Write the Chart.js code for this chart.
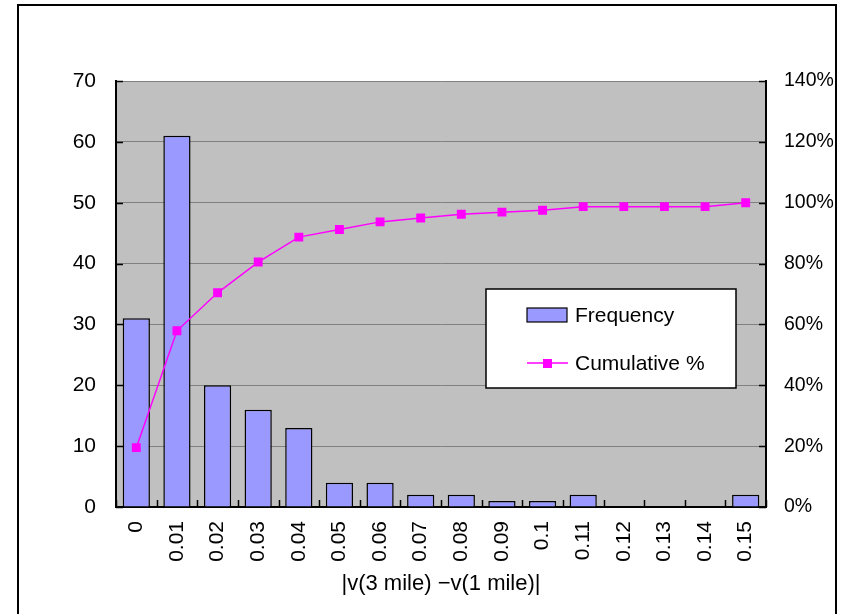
<!DOCTYPE html>
<html><head><meta charset="utf-8">
<script src="https://cdn.jsdelivr.net/npm/chart.js@4/dist/chart.umd.min.js"></script>
<style>html,body{margin:0;padding:0;background:#fff}#wrap{width:844px;height:614px;position:relative}</style>
</head><body><div id="wrap"><canvas id="c" width="844" height="614"></canvas></div>
<script>
const categories = ['0','0.01','0.02','0.03','0.04','0.05','0.06','0.07','0.08','0.09','0.1','0.11','0.12','0.13','0.14','0.15'];
const frequency = [31,61,20,16,13,4,4,2,2,1,1,2,0,0,0,2];
const cumulativePct = [19.5,57.9,70.4,80.5,88.7,91.2,93.7,95.0,96.2,96.9,97.5,98.7,98.7,98.7,98.7,100];
const freqAxis = {min:0, max:70, step:10};
const pctAxis = {min:0, max:140, step:20};
const seriesNames = ['Frequency','Cumulative %'];
const xTitle = '|v(3 mile) \u2212v(1 mile)|';

const FONT = '"Liberation Sans", Arial, sans-serif';
const BAR_FILL = '#9999ff', LINE_COL = '#ff00ff';

const decor = {
  id: 'decor',
  beforeDraw(chart) {
    const {ctx, chartArea: a} = chart;
    ctx.save();
    ctx.fillStyle = '#fff';
    ctx.fillRect(0, 0, chart.width, chart.height);
    ctx.fillStyle = '#c0c0c0';
    ctx.fillRect(a.left, a.top, a.right - a.left, a.bottom - a.top);
    ctx.restore();
  },
  afterDraw(chart) {
    const {ctx, chartArea: a, scales} = chart;
    ctx.save();
    ctx.strokeStyle = '#000';
    ctx.lineWidth = 1.5;
    ctx.beginPath();
    scales.y.ticks.forEach((t, i) => {
      const py = Math.round(scales.y.getPixelForTick(i)) + 0.5;
      ctx.moveTo(a.left, py); ctx.lineTo(a.left + 7, py);
    });
    scales.y1.ticks.forEach((t, i) => {
      const py = Math.round(scales.y1.getPixelForTick(i)) + 0.5;
      ctx.moveTo(a.right - 7, py); ctx.lineTo(a.right, py);
    });
    const n = categories.length;
    const w = (a.right - a.left) / n;
    for (let i = 0; i <= n; i++) {
      const px = Math.round(scales.x.getPixelForValue(Math.min(i, n - 1)) + (i < n ? -w / 2 : w / 2)) + 0.5;
      ctx.moveTo(px, a.bottom); ctx.lineTo(px, a.bottom - 7);
    }
    ctx.stroke();

    // outer frame
    ctx.lineWidth = 2;
    ctx.strokeStyle = '#000';
    ctx.strokeRect(18, 5, 818, 640);

    // legend
    const ds = chart.data.datasets;
    ctx.fillStyle = '#fff';
    ctx.fillRect(486, 289, 250, 99);
    ctx.lineWidth = 1.5;
    ctx.strokeRect(486, 289, 250, 99);
    ctx.font = '21px ' + FONT;
    ctx.textBaseline = 'middle';
    ctx.textAlign = 'left';
    ctx.fillStyle = ds[1].backgroundColor;
    ctx.fillRect(527, 308, 40, 14);
    ctx.lineWidth = 1.2;
    ctx.strokeStyle = '#000';
    ctx.strokeRect(527, 308, 40, 14);
    ctx.fillStyle = '#000';
    ctx.fillText(ds[1].label, 575, 316);
    ctx.strokeStyle = ds[0].borderColor;
    ctx.lineWidth = 1.5;
    ctx.beginPath(); ctx.moveTo(527, 363); ctx.lineTo(568, 363); ctx.stroke();
    ctx.fillStyle = ds[0].pointBackgroundColor;
    ctx.fillRect(543, 359, 9, 9);
    ctx.fillStyle = '#000';
    ctx.fillText(ds[0].label, 575, 364);
    ctx.restore();
  }
};

new Chart(document.getElementById('c'), {
  data: {
    labels: categories,
    datasets: [
      {
        type: 'line', label: seriesNames[1], data: cumulativePct, yAxisID: 'y1', order: 0,
        borderColor: LINE_COL, borderWidth: 1.5, pointStyle: 'rect', pointRadius: 6.3,
        pointBackgroundColor: LINE_COL, pointBorderColor: LINE_COL, pointBorderWidth: 0, tension: 0
      },
      {
        type: 'bar', label: seriesNames[0], data: frequency, yAxisID: 'y', order: 1,
        backgroundColor: BAR_FILL, borderColor: '#000', borderWidth: 1.5,
        barPercentage: 0.67, categoryPercentage: 1
      }
    ]
  },
  options: {
    responsive: false, animation: false, devicePixelRatio: 1,
    layout: {padding: {top: 81, left: 0, right: 0, bottom: 0}},
    plugins: {legend: {display: false}, tooltip: {enabled: false}, title: {display: false}},
    scales: {
      x: {
        type: 'category', offset: true,
        grid: {display: true, drawOnChartArea: false, drawTicks: false},
        border: {display: true, color: '#000', width: 2},
        ticks: {minRotation: 90, maxRotation: 90, autoSkip: false, padding: 14, color: '#000', font: {family: FONT, size: 21}},
        title: {display: true, text: xTitle, color: '#000', font: {family: FONT, size: 22}, padding: {top: 0, bottom: 17}},
        afterFit(s) { s.height = 107; }
      },
      y: {
        position: 'left', min: freqAxis.min, max: freqAxis.max,
        ticks: {stepSize: freqAxis.step, padding: 20, color: '#000', font: {family: FONT, size: 21}},
        grid: {color: '#808080', lineWidth: 1, drawTicks: false},
        border: {display: true, color: '#000', width: 2},
        afterFit(s) { s.width = 116; }
      },
      y1: {
        position: 'right', min: pctAxis.min, max: pctAxis.max,
        ticks: {stepSize: pctAxis.step, padding: 18, color: '#000', font: {family: FONT, size: 19.5}, callback: v => v + '%'},
        grid: {drawOnChartArea: false, drawTicks: false},
        border: {display: true, color: '#000', width: 2},
        afterFit(s) { s.width = 78; }
      }
    }
  },
  plugins: [decor]
});
</script></body></html>
